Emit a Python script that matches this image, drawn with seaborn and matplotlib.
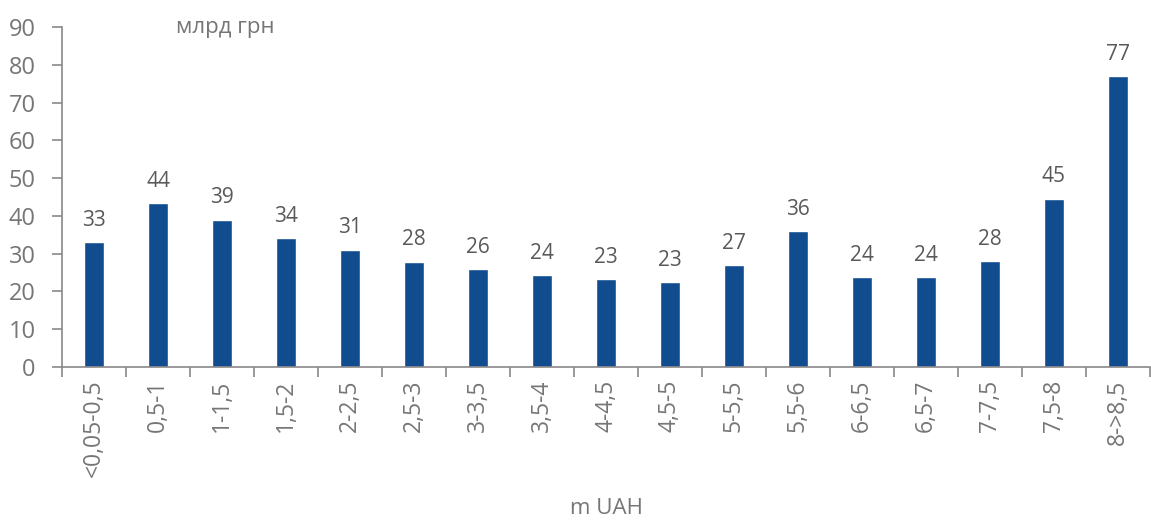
import matplotlib
matplotlib.use("Agg")
import matplotlib.pyplot as plt
import seaborn as sns
import numpy as np
import pandas as pd
from matplotlib.ticker import FixedLocator, NullFormatter

categories = ["<0,05-0,5", "0,5-1", "1-1,5", "1,5-2", "2-2,5", "2,5-3", "3-3,5", "3,5-4",
              "4-4,5", "4,5-5", "5-5,5", "5,5-6", "6-6,5", "6,5-7", "7-7,5", "7,5-8", "8->8,5"]
values = [33.0, 43.4, 39.0, 34.1, 31.1, 27.9, 25.9, 24.4, 23.2, 22.5, 27.0, 35.9, 23.8, 23.8, 28.1, 44.6, 77.0]
labels = ["33", "44", "39", "34", "31", "28", "26", "24", "23", "23", "27", "36", "24", "24", "28", "45", "77"]

sns.set_theme(style="white")
plt.rcParams['font.family'] = ['Open Sans', 'DejaVu Sans']

df = pd.DataFrame({"cat": categories, "val": values})

fig = plt.figure(figsize=(11.51, 5.22), dpi=100)
ax = fig.add_axes([0.054, 0.297, 0.945, 0.651])

bar_color = "#114C8F"
sns.barplot(data=df, x="cat", y="val", color=bar_color, width=0.31, ax=ax, saturation=1)

for i, (v, lab) in enumerate(zip(values, labels)):
    ax.text(i, v + 3.0, lab, ha="center", va="bottom", fontsize=15, color="#595959")

ax.set_ylim(0, 90)
ax.set_xlim(-0.5, len(categories) - 0.5)
ax.set_yticks(np.arange(0, 91, 10))
ax.tick_params(axis="y", labelsize=17, colors="#898989", labelcolor="#767676",
               direction="out", length=7, width=1.2, left=True, pad=12)
ax.tick_params(axis="x", which="major", length=0, labelsize=16.5, labelcolor="#767676",
               labelrotation=90, pad=9)
ax.xaxis.set_minor_locator(FixedLocator(np.arange(-0.5, len(categories), 1.0)))
ax.xaxis.set_minor_formatter(NullFormatter())
ax.tick_params(axis="x", which="minor", bottom=True, length=7, width=1.2, color="#898989", direction="out")

for s in ["top", "right"]:
    ax.spines[s].set_visible(False)
for s in ["left", "bottom"]:
    ax.spines[s].set_color("#898989")
    ax.spines[s].set_linewidth(1.2)

ax.set_ylabel("")
ax.set_xlabel("m UAH", fontsize=16, color="#767676", labelpad=15)
ax.text(0.105, 1.0, "млрд грн", transform=ax.transAxes, fontsize=16, color="#767676",
        ha="left", va="center")

fig.savefig("out.png", dpi=100)
